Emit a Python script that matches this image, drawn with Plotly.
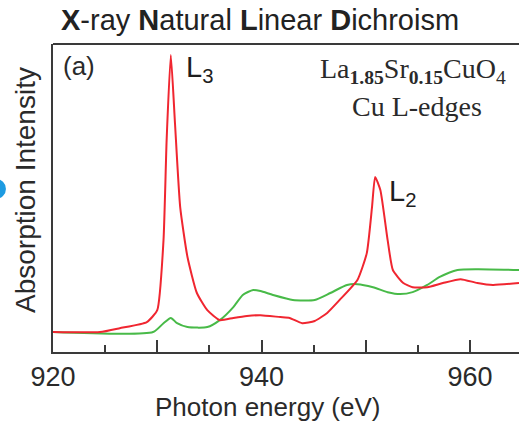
import plotly.graph_objects as go

# Photon energy (eV) and normalised absorption intensity
red_energy = [920.0, 924.5, 926.4, 929.0, 930.0, 930.6, 930.9, 931.3, 931.7, 932.2, 932.9,
              933.8, 934.8, 936.0, 937.3, 938.6, 939.9, 941.8, 942.7, 943.9, 945.1, 946.3,
              947.5, 949.2, 950.1, 950.6, 950.9, 951.4, 952.1, 952.6, 953.6, 954.5, 955.9,
              957.4, 959.1, 960.7, 962.2, 964.7]
red_intensity = [0.0, 0.0, 0.014, 0.036, 0.079, 0.332, 0.693, 1.0, 0.755, 0.451, 0.271,
                 0.141, 0.079, 0.043, 0.051, 0.058, 0.061, 0.054, 0.051, 0.032, 0.040, 0.069,
                 0.116, 0.188, 0.285, 0.451, 0.560, 0.513, 0.332, 0.224, 0.177, 0.162, 0.162,
                 0.177, 0.191, 0.177, 0.170, 0.177]

green_energy = [920.0, 929.6, 930.6, 931.3, 931.9, 932.9, 934.8, 936.0, 937.3, 938.2, 939.2,
                939.9, 941.1, 943.0, 945.1, 946.6, 948.2, 949.2, 950.7, 952.1, 953.3, 954.5,
                955.9, 957.1, 958.8, 960.7, 964.7]
green_intensity = [0.0, 0.0, 0.032, 0.051, 0.032, 0.018, 0.018, 0.043, 0.090, 0.134, 0.152,
                   0.148, 0.134, 0.116, 0.116, 0.141, 0.170, 0.173, 0.162, 0.144, 0.137, 0.144,
                   0.170, 0.199, 0.224, 0.227, 0.224]

tick_vals = [920, 930, 940, 950, 960]
tick_text = ["920", "", "940", "", "960"]
minor_ticks = [925, 935, 945, 955]

SANS = "Liberation Sans, Arial, sans-serif"
SERIF = "Liberation Serif, Times New Roman, serif"
AX = "#3a3a3a"
TXT = "#2a2a2a"

fig = go.Figure()
fig.add_trace(go.Scatter(x=green_energy, y=green_intensity, mode="lines",
                         line=dict(color="rgb(72,186,72)", width=2, shape="spline", smoothing=0.6),
                         showlegend=False))
fig.add_trace(go.Scatter(x=red_energy, y=red_intensity, mode="lines",
                         line=dict(color="rgb(240,38,48)", width=2, shape="spline", smoothing=0.5),
                         showlegend=False))

fig.update_layout(
    width=519, height=424,
    margin=dict(l=53, r=0, t=44, b=72),
    paper_bgcolor="white", plot_bgcolor="white",
    font=dict(family=SANS, color=TXT),
    xaxis=dict(range=[920, 964.7], showgrid=False, zeroline=False,
               showline=True, linecolor=AX, linewidth=2,
               tickvals=tick_vals, ticktext=tick_text, ticks="inside", ticklen=12,
               tickwidth=2, tickcolor=AX, tickfont=dict(size=27, family=SANS, color=TXT),
               minor=dict(tickvals=minor_ticks, ticks="inside", ticklen=7, tickwidth=2, tickcolor=AX)),
    yaxis=dict(range=[-0.072, 1.04], showgrid=False, zeroline=False,
               showline=True, linecolor=AX, linewidth=2, showticklabels=False, ticks=""),
)

# axis titles
fig.add_annotation(text="Photon energy (eV)", xref="paper", yref="paper",
                   x=(267 - 53) / 466, y=(352 - 407) / 308, xanchor="center", yanchor="middle",
                   showarrow=False, font=dict(size=26, family=SANS, color=TXT))
fig.add_annotation(text="Absorption Intensity", xref="paper", yref="paper", textangle=-90,
                   x=(25 - 53) / 466, y=(352 - 190) / 308, xanchor="center", yanchor="middle",
                   showarrow=False, font=dict(size=28, family=SANS, color=TXT))

# top frame line
fig.add_shape(type="line", xref="paper", yref="paper", x0=0, x1=1, y0=1, y1=1,
              line=dict(color=AX, width=2))
# blue marker dot at the left edge
fig.add_shape(type="circle", xref="paper", yref="paper", x0=-0.144, x1=-0.101, y0=0.497, y1=0.562,
              fillcolor="rgb(30,155,225)", line=dict(width=0))

fig.add_annotation(text="<b>X</b>-ray <b>N</b>atural <b>L</b>inear <b>D</b>ichroism",
                   xref="paper", yref="paper", x=(59 - 53) / 466, y=(352 - 20) / 308,
                   xanchor="left", yanchor="middle", showarrow=False,
                   font=dict(size=29, family=SANS, color="#222222"))
fig.add_annotation(text="(a)", xref="paper", yref="paper", x=(61 - 53) / 466, y=(352 - 66) / 308,
                   xanchor="left", yanchor="middle", showarrow=False,
                   font=dict(size=26, family=SANS, color=TXT))
fig.add_annotation(text="L<sub>3</sub>", xref="paper", yref="paper", x=(184 - 53) / 466, y=(352 - 69) / 308,
                   xanchor="left", yanchor="middle", showarrow=False,
                   font=dict(size=29, family=SANS, color="#1e1e1e"))
fig.add_annotation(text="L<sub>2</sub>", xref="paper", yref="paper", x=(387 - 53) / 466, y=(352 - 193) / 308,
                   xanchor="left", yanchor="middle", showarrow=False,
                   font=dict(size=29, family=SANS, color="#1e1e1e"))
fig.add_annotation(text="La<sub><b>1.85</b></sub>Sr<sub><b>0.15</b></sub>CuO<sub>4</sub>",
                   xref="paper", yref="paper", x=(413 - 53) / 466, y=(352 - 70) / 308,
                   xanchor="center", yanchor="middle", showarrow=False,
                   font=dict(size=28, family=SERIF, color=TXT))
fig.add_annotation(text="Cu L-edges", xref="paper", yref="paper", x=(417 - 53) / 466, y=(352 - 106) / 308,
                   xanchor="center", yanchor="middle", showarrow=False,
                   font=dict(size=28, family=SERIF, color=TXT))

fig.write_html("out.html")
